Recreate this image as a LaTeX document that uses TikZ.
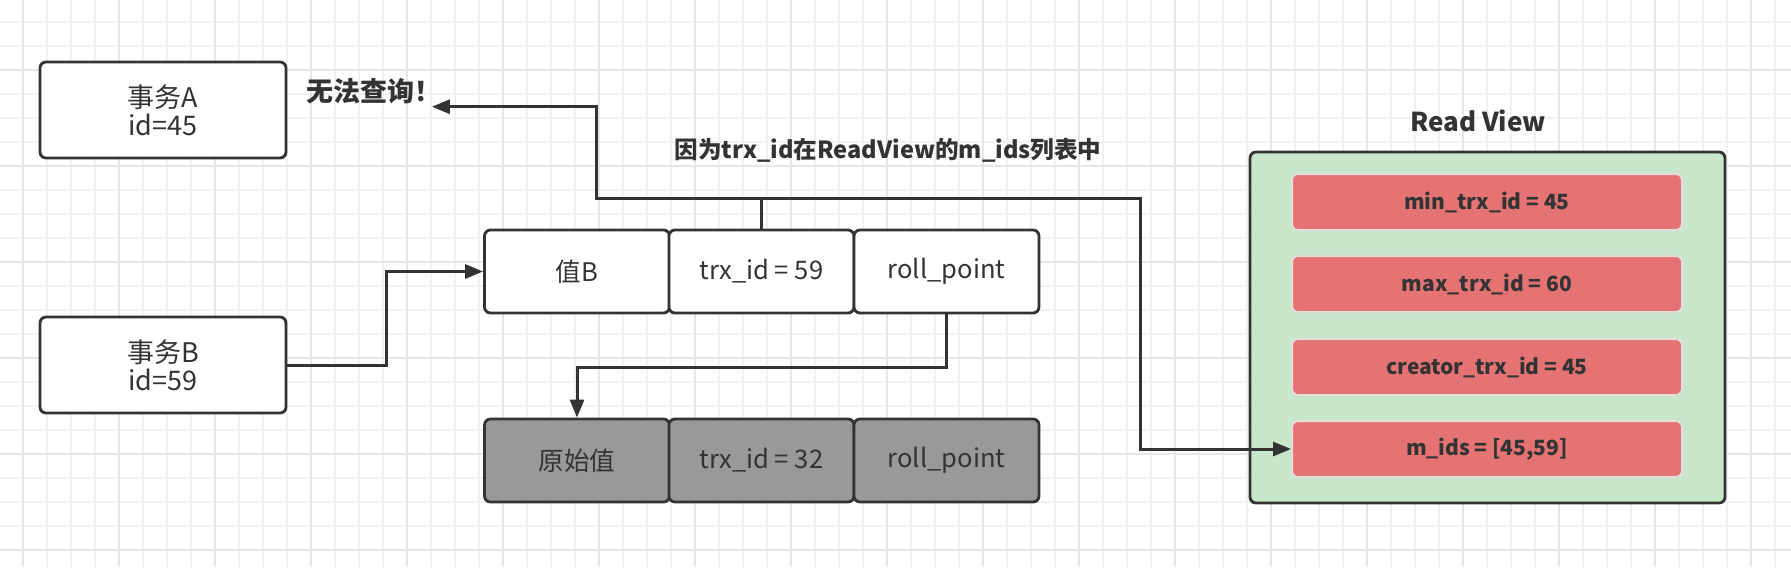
\documentclass[tikz,border=0pt]{standalone}
\usepackage{fontspec}
\setmainfont{Noto Sans CJK SC}
\usepackage{xcolor}
\usepackage{tikz}
\usetikzlibrary{arrows.meta}
\definecolor{figline}{RGB}{51,51,51}
\definecolor{gridlo}{RGB}{241,241,241}
\definecolor{gridhi}{RGB}{230,230,230}
\definecolor{oldfill}{RGB}{153,153,153}
\definecolor{rvgreen}{RGB}{200,230,201}
\definecolor{rvred}{RGB}{229,115,115}
\definecolor{rvedge}{RGB}{226,222,218}
\tikzset{
  txbox/.style  ={draw=figline, line width=1.4pt, rounded corners=3pt, fill=white, minimum width=123pt, minimum height=48pt, align=center, text=figline, font=\fontsize{13.5}{14}\selectfont},
  cell/.style   ={draw=figline, line width=1.4pt, rounded corners=3pt, fill=white, minimum width=92.5pt, minimum height=41.5pt, text=figline, font=\fontsize{12.8}{15}\selectfont},
  oldcell/.style={cell, fill=oldfill},
  rvbox/.style  ={draw=figline, line width=1.4pt, rounded corners=3pt, fill=rvgreen, minimum width=237.5pt, minimum height=175.5pt},
  rvrow/.style  ={draw=rvedge, line width=1pt, rounded corners=3pt, fill=rvred, minimum width=195pt, minimum height=28pt, text=figline, font=\bfseries\fontsize{10.5}{13}\selectfont},
  lbl/.style    ={text=figline, inner sep=1pt, font=\bfseries\fontsize{11.8}{14}\selectfont},
  arr/.style    ={draw=figline, line width=1.5pt, -{Triangle[length=9pt,width=7pt]}},
}

\begin{document}
\begin{tikzpicture}[x=0.5pt,y=-0.5pt]
  \useasboundingbox (0,0) rectangle (1791,567);
  \fill[white] (0,0) rectangle (1791,567);
  % background grid
  \foreach \k in {0,...,73} \draw[draw=gridlo,line width=0.9pt] ({23.3+24*\k},0) -- ({23.3+24*\k},567);
  \foreach \k in {0,...,22} \draw[draw=gridlo,line width=0.9pt] (0,{21.7+24*\k}) -- (1791,{21.7+24*\k});
  \foreach \k in {0,...,18} \draw[draw=gridhi,line width=0.9pt] ({23.3+96*\k},0) -- ({23.3+96*\k},567);
  \foreach \k in {0,...,5} \draw[draw=gridhi,line width=0.9pt] (0,{69.7+96*\k}) -- (1791,{69.7+96*\k});
  % transactions
  \node[txbox] (txa) at (163,110) {事务A\\id=45};
  \node[txbox] (txb) at (163,365) {事务B\\id=59};
  \node[lbl,font=\bfseries\fontsize{13.5}{16}\selectfont] (nowarn) at (374,91.5) {无法查询！};
  \node[lbl] (cause) at (888,150) {因为trx\_id在ReadView的m\_ids列表中};
  % version chain
  \node[cell] (valb) at (577,271.5) {值B};
  \node[cell] (trxb) at (761.5,271.5) {trx\_id = 59};
  \node[cell] (rollb) at (946.5,271.5) {roll\_point};
  \node[oldcell] (orig) at (577,460.5) {原始值};
  \node[oldcell] (trxo) at (761.5,460.5) {trx\_id = 32};
  \node[oldcell] (rollo) at (946.5,460.5) {roll\_point};
  % read view
  \node[lbl,font=\bfseries\fontsize{13}{16}\selectfont] (rvtitle) at (1478,121) {Read View};
  \node[rvbox] (rview) at (1487.5,327.5) {};
  \node[rvrow] (minid) at (1487,202) {min\_trx\_id = 45};
  \node[rvrow] (maxid) at (1487,284) {max\_trx\_id = 60};
  \node[rvrow] (creid) at (1487,367) {creator\_trx\_id = 45};
  \node[rvrow] (mids) at (1487,449) {m\_ids = [45,59]};
  % connectors
  \coordinate (jl) at (596,198);
  \coordinate (jr) at (1140,198);
  \draw[arr] (txb.east) -- ++(99,0) |- (valb.west);
  \draw[arr] (rollb.south) -- ++(0,53) -| (orig.north);
  \draw[arr,shorten >=-6pt] (trxb.north) |- (jl) |- (nowarn.south east);
  \draw[arr] (trxb.north) |- (jr) |- (mids.west);
\end{tikzpicture}
\end{document}
